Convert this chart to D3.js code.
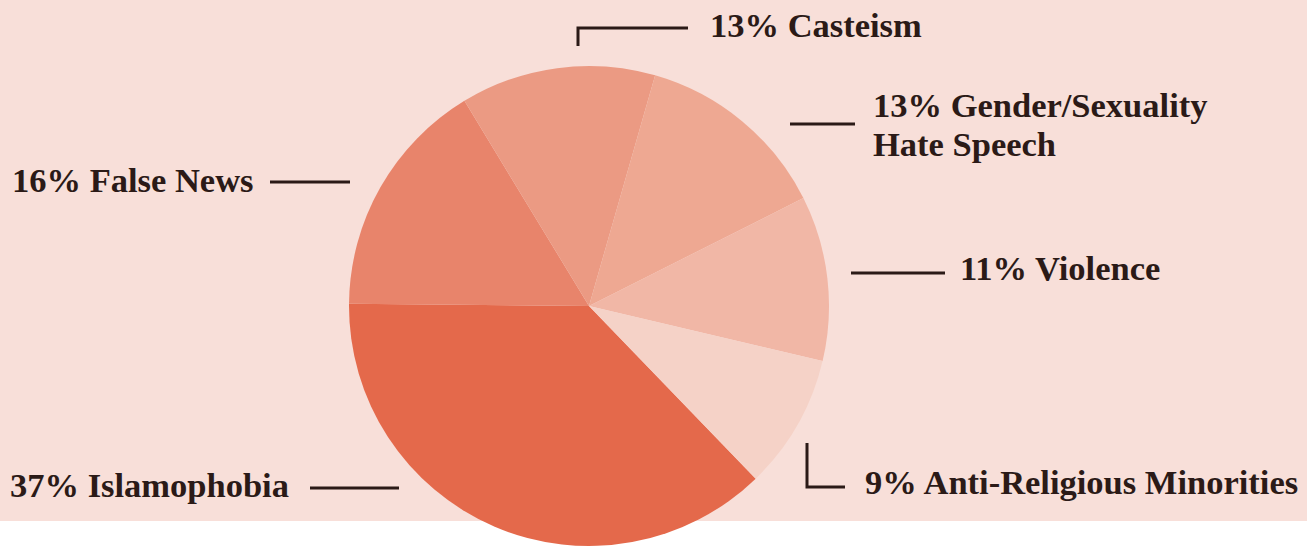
<!DOCTYPE html>
<html>
<head>
<meta charset="utf-8">
<script src="https://cdn.jsdelivr.net/npm/d3@7"></script>
<style>
  body { margin: 0; background: #fff; }
  svg text { font-family: 'Liberation Serif', 'DejaVu Serif', serif; font-weight: bold; fill: #2b1a17; }
</style>
</head>
<body>
<svg class="pie" width="1307" height="547"></svg>
<script>
const categories = ['Islamophobia', 'False News', 'Casteism', 'Gender/Sexuality Hate Speech', 'Violence', 'Anti-Religious Minorities']
const shares = [37, 16, 13, 13, 11, 9]
const colors = ['#e4694b', '#e8846b', '#eb9a83', '#eea892', '#f1b7a6', '#f5d2c7']

// label placement (layout only)
const labelLayout = [
  { lines: ['37% Islamophobia'], x: 10, y: 497, path: [[310, 488], [399, 488]] },
  { lines: ['16% False News'], x: 12, y: 192, path: [[270, 182], [350, 182]] },
  { lines: ['13% Casteism'], x: 710, y: 37, path: [[578, 46], [578, 28], [688, 28]] },
  { lines: ['13% Gender/Sexuality', 'Hate Speech'], x: 873, y: 117, path: [[790, 124], [855, 124]] },
  { lines: ['11% Violence'], x: 960, y: 280, path: [[851, 273], [945, 273]] },
  { lines: ['9% Anti-Religious Minorities'], x: 865, y: 494, path: [[807, 443], [807, 487], [845, 487]] },
]

const svg = d3.select('svg.pie')

svg.append('rect')
  .attr('x', 0).attr('y', 0)
  .attr('width', 1307).attr('height', 521)
  .attr('fill', '#f8dfd9')

const start = 136 * Math.PI / 180
const pie = d3.pie().sort(null).startAngle(start).endAngle(start + 2 * Math.PI)
const arc = d3.arc().innerRadius(0).outerRadius(240)

svg.append('g')
  .attr('transform', 'translate(589, 306)')
  .selectAll('path')
  .data(pie(shares))
  .enter()
  .append('path')
  .attr('d', arc)
  .attr('fill', (d, i) => colors[i])

const line = d3.line()

const labels = svg.selectAll('g.label')
  .data(labelLayout)
  .enter()
  .append('g')
  .attr('class', 'label')

labels.append('path')
  .attr('d', d => line(d.path))
  .attr('fill', 'none')
  .attr('stroke', '#2b1a17')
  .attr('stroke-width', 3)

labels.append('text')
  .attr('x', d => d.x)
  .attr('y', d => d.y)
  .attr('font-size', 34.5)
  .selectAll('tspan')
  .data(d => d.lines.map(l => ({ l, x: d.x })))
  .enter()
  .append('tspan')
  .attr('x', d => d.x)
  .attr('dy', (d, i) => i === 0 ? 0 : 39)
  .text(d => d.l)
</script>
</body>
</html>
